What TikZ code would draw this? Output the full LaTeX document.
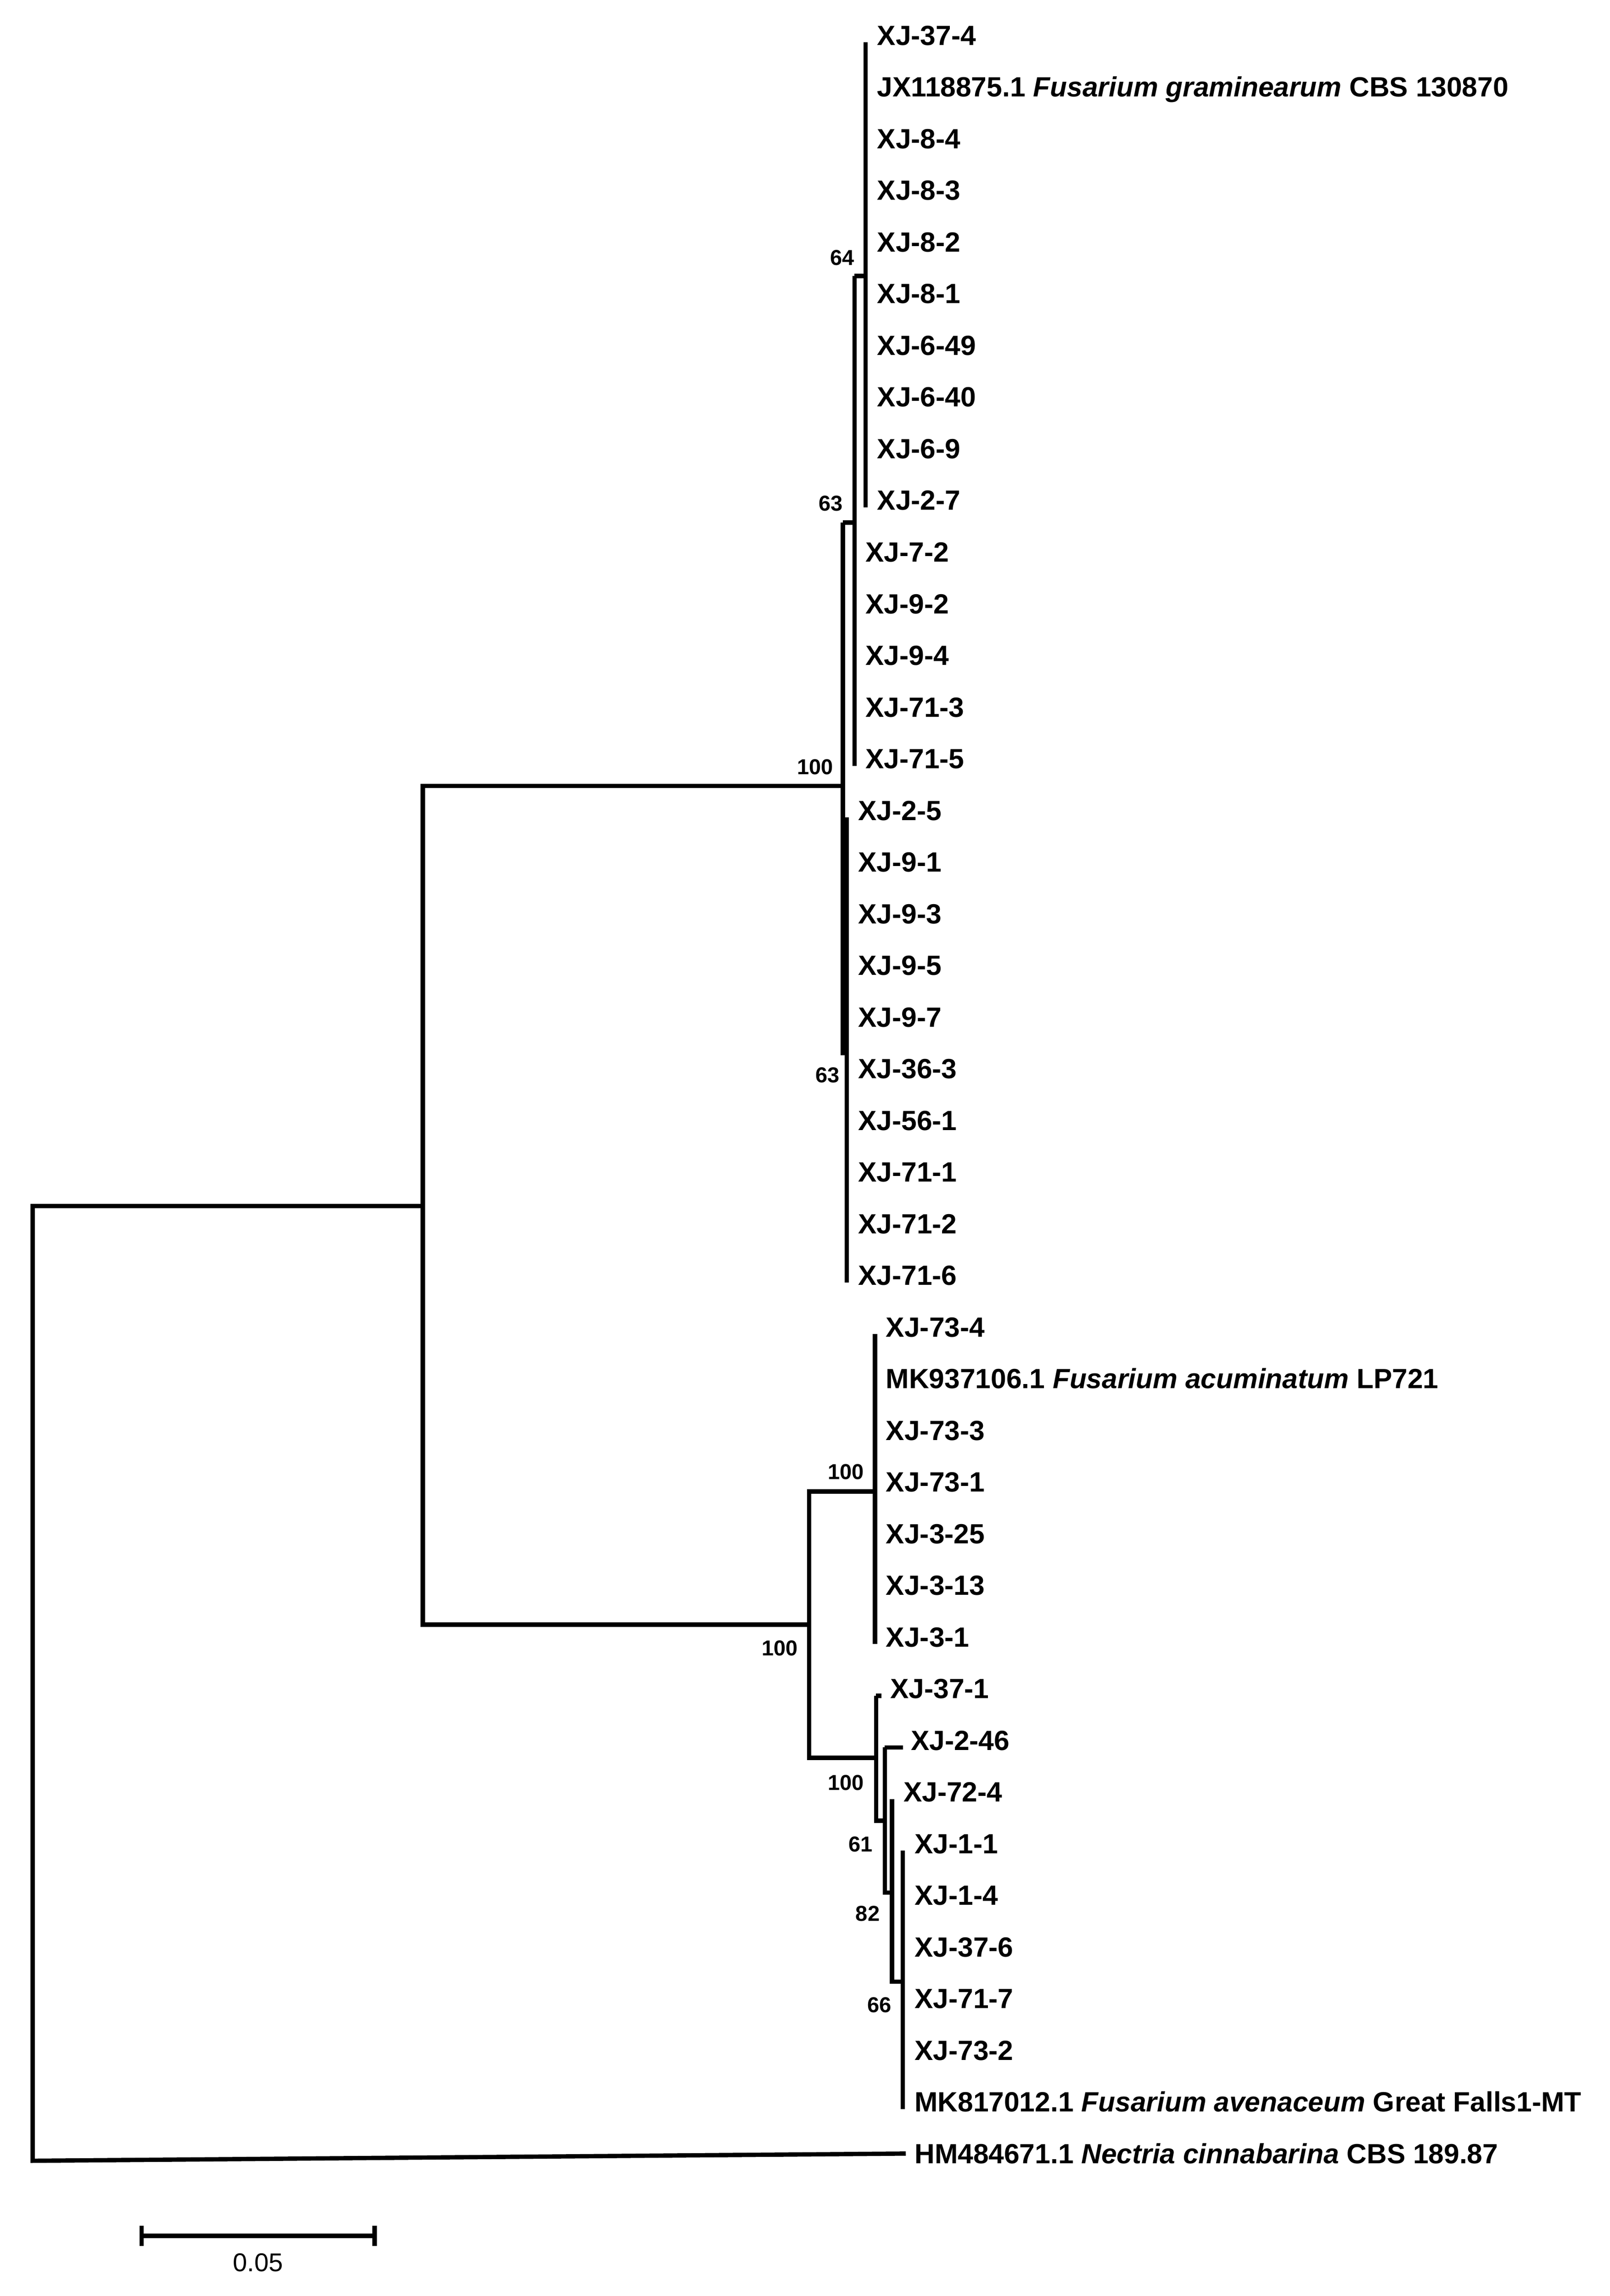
\documentclass[tikz,border=0pt]{standalone}
\usepackage{fontspec}
\setmainfont{Liberation Sans}
\begin{document}
\begin{tikzpicture}[x=0.05cm,y=-0.05cm,line width=4.2pt,line join=miter,
  tip/.style={anchor=mid west,inner sep=0pt,font=\fontsize{27}{30}\selectfont\bfseries},
  boot/.style={inner sep=0pt,font=\fontsize{21}{24}\selectfont\bfseries},
  branch/.style={draw=black,line width=4.2pt}]
\useasboundingbox (0,0) rectangle (1100.1,1568.7);
% tip labels
\foreach \i/\x/\t in {
0/598/XJ-37-4,
1/598/{JX118875.1 \textit{Fusarium graminearum} CBS 130870},
2/598/XJ-8-4, 3/598/XJ-8-3, 4/598/XJ-8-2, 5/598/XJ-8-1, 6/598/XJ-6-49, 7/598/XJ-6-40, 8/598/XJ-6-9, 9/598/XJ-2-7,
10/590/XJ-7-2, 11/590/XJ-9-2, 12/590/XJ-9-4, 13/590/XJ-71-3, 14/590/XJ-71-5,
15/585/XJ-2-5, 16/585/XJ-9-1, 17/585/XJ-9-3, 18/585/XJ-9-5, 19/585/XJ-9-7, 20/585/XJ-36-3, 21/585/XJ-56-1, 22/585/XJ-71-1, 23/585/XJ-71-2, 24/585/XJ-71-6,
25/604/XJ-73-4,
26/604/{MK937106.1 \textit{Fusarium acuminatum} LP721},
27/604/XJ-73-3, 28/604/XJ-73-1, 29/604/XJ-3-25, 30/604/XJ-3-13, 31/604/XJ-3-1,
32/607/XJ-37-1, 33/621/XJ-2-46, 34/616/XJ-72-4,
35/623.6/XJ-1-1, 36/623.6/XJ-1-4, 37/623.6/XJ-37-6, 38/623.6/XJ-71-7, 39/623.6/XJ-73-2,
40/623.6/{MK817012.1 \textit{Fusarium avenaceum} Great Falls1-MT},
41/623.6/{HM484671.1 \textit{Nectria cinnabarina} CBS 189.87}}
  {\pgfmathsetmacro\yy{29+35.3*\i}
   \node[tip] (t\i) at (\x,\yy) {\t};}
% internal node coordinates
\coordinate (root) at (22.3,824);
\coordinate (nA) at (289,824);
\coordinate (nB) at (576,537);
\coordinate (nC) at (584,357);
\coordinate (n64) at (591.5,188.6);
\coordinate (nD) at (578.7,719.5);
\coordinate (nE) at (553,1110);
\coordinate (nF) at (598,1019);
\coordinate (nG) at (598.7,1201);
\coordinate (nH) at (604.7,1244);
\coordinate (nI) at (609.6,1293);
\coordinate (nJ) at (617,1354);
% branches
\draw[branch] (nA) -- (root) -- (22.3,1476.3) -- (t41.west -| 619,0);
\draw[branch] (nB) -- (289,537) -- (289,1110) -- (nE);
\draw[branch] (576,357) -- (576,719.5) -- (nD);
\draw[branch] (576,357) -- (nC);
\draw[branch] (584,188.6) -- (584,523.2);
\draw[branch] (584,188.6) -- (n64);
\draw[branch] (591.5,29) -- (591.5,346.7);
\draw[branch] (578.7,558.5) -- (578.7,876.2);
\draw[branch] (nF) -- (553,1019) -- (553,1201) -- (nG);
\draw[branch] (598,911.5) -- (598,1123.3);
\draw[branch] (598.7,1158.6) -- (598.7,1244) -- (nH);
\draw[branch] (598.7,1158.6) -- (602.5,1158.6);
\draw[branch] (604.7,1193.9) -- (604.7,1293) -- (nI);
\draw[branch] (604.7,1193.9) -- (617,1193.9);
\draw[branch] (609.6,1229.2) -- (609.6,1354) -- (nJ);
\draw[branch] (617,1264.5) -- (617,1441);
% bootstrap values
\node[boot] (b1) at (575.6,176) {64};
\node[boot] (b2) at (567.7,344) {63};
\node[boot] (b3) at (557,524) {100};
\node[boot] (b4) at (565.6,734.5) {63};
\node[boot] (b5) at (578,1005.6) {100};
\node[boot] (b6) at (533,1126) {100};
\node[boot] (b7) at (578,1218) {100};
\node[boot] (b8) at (588,1260) {61};
\node[boot] (b9) at (593,1307.5) {82};
\node[boot] (b10) at (601,1370) {66};
% scale bar
\coordinate (sL) at (96.8,1527.6);
\coordinate (sR) at (256,1527.6);
\draw[branch] (sL) -- (sR);
\draw[branch] (96.8,1520.6) -- (96.8,1534.6);
\draw[branch] (256,1520.6) -- (256,1534.6);
\node[inner sep=0pt,font=\fontsize{25}{28}\selectfont] (sc) at (176.4,1546) {0.05};
\end{tikzpicture}
\end{document}
